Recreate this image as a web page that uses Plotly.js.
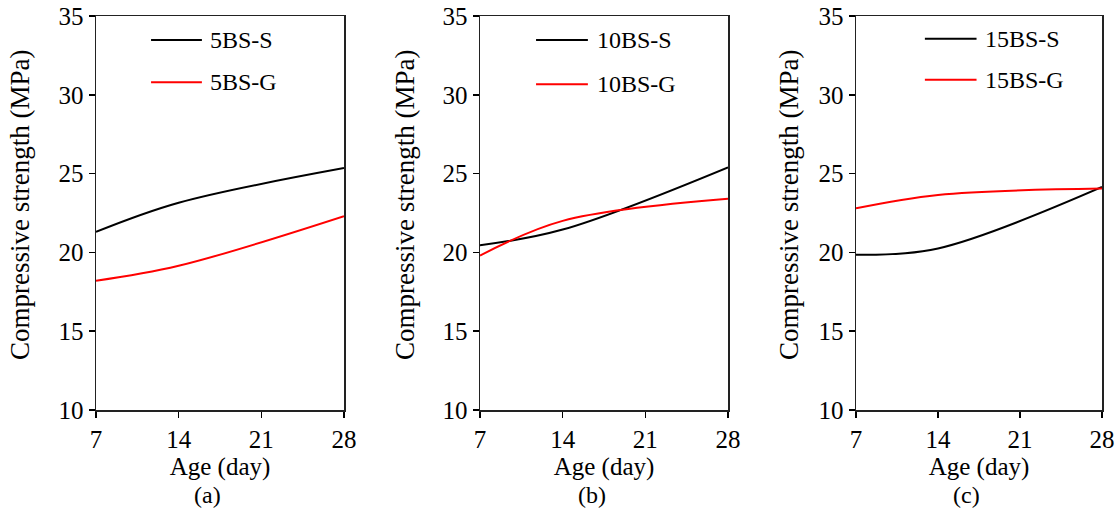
<!DOCTYPE html>
<html>
<head>
<meta charset="utf-8">
<script src="https://cdn.plot.ly/plotly-3.0.1.min.js"></script>
<style>html,body{margin:0;padding:0;background:#fff;}#chart{width:1119px;height:521px;}</style>
</head>
<body>
<div id="chart"></div>
<script>
// Data
const ages = [7, 14, 28];
const s5 = [21.3, 23.15, 25.35];
const g5 = [18.2, 19.15, 22.3];
const s10 = [20.45, 21.45, 25.4];
const g10 = [19.8, 22.0, 23.4];
const s15 = [19.85, 20.25, 24.15];
const g15 = [22.8, 23.65, 24.05];
const names = [["5BS-S", "5BS-G"], ["10BS-S", "10BS-G"], ["15BS-S", "15BS-G"]];
const captions = ["(a)", "(b)", "(c)"];
const xTicks = [7, 14, 21, 28];
const yTicks = [10, 15, 20, 25, 30, 35];
const yTitle = "Compressive strength (MPa)";

const FONT = "Liberation Serif, Times New Roman, serif";
const series = [[s5, g5], [s10, g10], [s15, g15]];
const colors = ["#000000", "#ff0000"];

const traces = [];
series.forEach((pair, i) => {
  pair.forEach((ys, j) => {
    traces.push({
      x: ages, y: ys, type: "scatter", mode: "lines",
      name: names[i][j], showlegend: false,
      line: {color: colors[j], width: 2, shape: "spline", smoothing: 1},
      xaxis: i === 0 ? "x" : "x" + (i + 1),
      yaxis: i === 0 ? "y" : "y" + (i + 1)
    });
  });
});

const xDomains = [[96/1119, 344/1119], [480/1119, 728/1119], [856/1119, 1102/1119]];
const yDomain = [1 - 410/521, 1 - 16/521];
const yTitleX = [20/1119, 405/1119, 789/1119];

const layout = {
  width: 1119, height: 521,
  margin: {l: 0, r: 0, t: 0, b: 0},
  paper_bgcolor: "#fff", plot_bgcolor: "#fff",
  font: {family: FONT, color: "#000", size: 25},
  shapes: [], annotations: []
};

const legendPos = [
  {x0: 0.222, x1: 0.427, tx: 0.452, y: [0.939, 0.832]},
  {x0: 0.226, x1: 0.435, tx: 0.464, y: [0.939, 0.827]},
  {x0: 0.280, x1: 0.490, tx: 0.516, y: [0.942, 0.838]}
];

for (let i = 0; i < 3; i++) {
  const sfx = i === 0 ? "" : String(i + 1);
  layout["xaxis" + sfx] = {
    domain: xDomains[i], anchor: "y" + sfx,
    range: [7, 28], tickvals: xTicks, ticktext: xTicks.map(String),
    ticks: "outside", ticklen: 6, tickwidth: 1.5, tickcolor: "#000",
    showline: true, linecolor: "#222", linewidth: 1.5, mirror: true,
    showgrid: false, zeroline: false,
    tickfont: {family: FONT, size: 25, color: "#000"},
    title: {text: "Age (day)", font: {family: FONT, size: 25, color: "#000"}, standoff: 0}
  };
  layout["yaxis" + sfx] = {
    domain: yDomain, anchor: "x" + sfx,
    range: [10, 35], tickvals: yTicks, ticktext: yTicks.map(String),
    ticks: "outside", ticklen: 6, tickwidth: 1.5, tickcolor: "#000",
    showline: true, linecolor: "#222", linewidth: 1.5, mirror: true,
    showgrid: false, zeroline: false,
    tickfont: {family: FONT, size: 25, color: "#000"}
  };
  layout.annotations.push({
    xref: "paper", yref: "paper",
    x: yTitleX[i], y: 1 - 205/521, xanchor: "center", yanchor: "middle",
    text: yTitle, textangle: -90, showarrow: false,
    font: {family: FONT, size: 27, color: "#000"}
  });
  const lp = legendPos[i];
  for (let j = 0; j < 2; j++) {
    layout.shapes.push({
      type: "line", xref: "x" + sfx + " domain", yref: "y" + sfx + " domain",
      x0: lp.x0, x1: lp.x1, y0: lp.y[j], y1: lp.y[j],
      line: {color: colors[j], width: 2}
    });
    layout.annotations.push({
      xref: "x" + sfx + " domain", yref: "y" + sfx + " domain",
      x: lp.tx, y: lp.y[j], xanchor: "left", yanchor: "middle",
      text: names[i][j], showarrow: false,
      font: {family: FONT, size: 24, color: "#000"}
    });
  }
  layout.annotations.push({
    xref: "x" + sfx + " domain", yref: "paper",
    x: 0.45, y: 1 - 495/521, xanchor: "center", yanchor: "middle",
    text: captions[i], showarrow: false,
    font: {family: FONT, size: 24, color: "#000"}
  });
}

Plotly.newPlot("chart", traces, layout, {displayModeBar: false, staticPlot: true});
</script>
</body>
</html>
